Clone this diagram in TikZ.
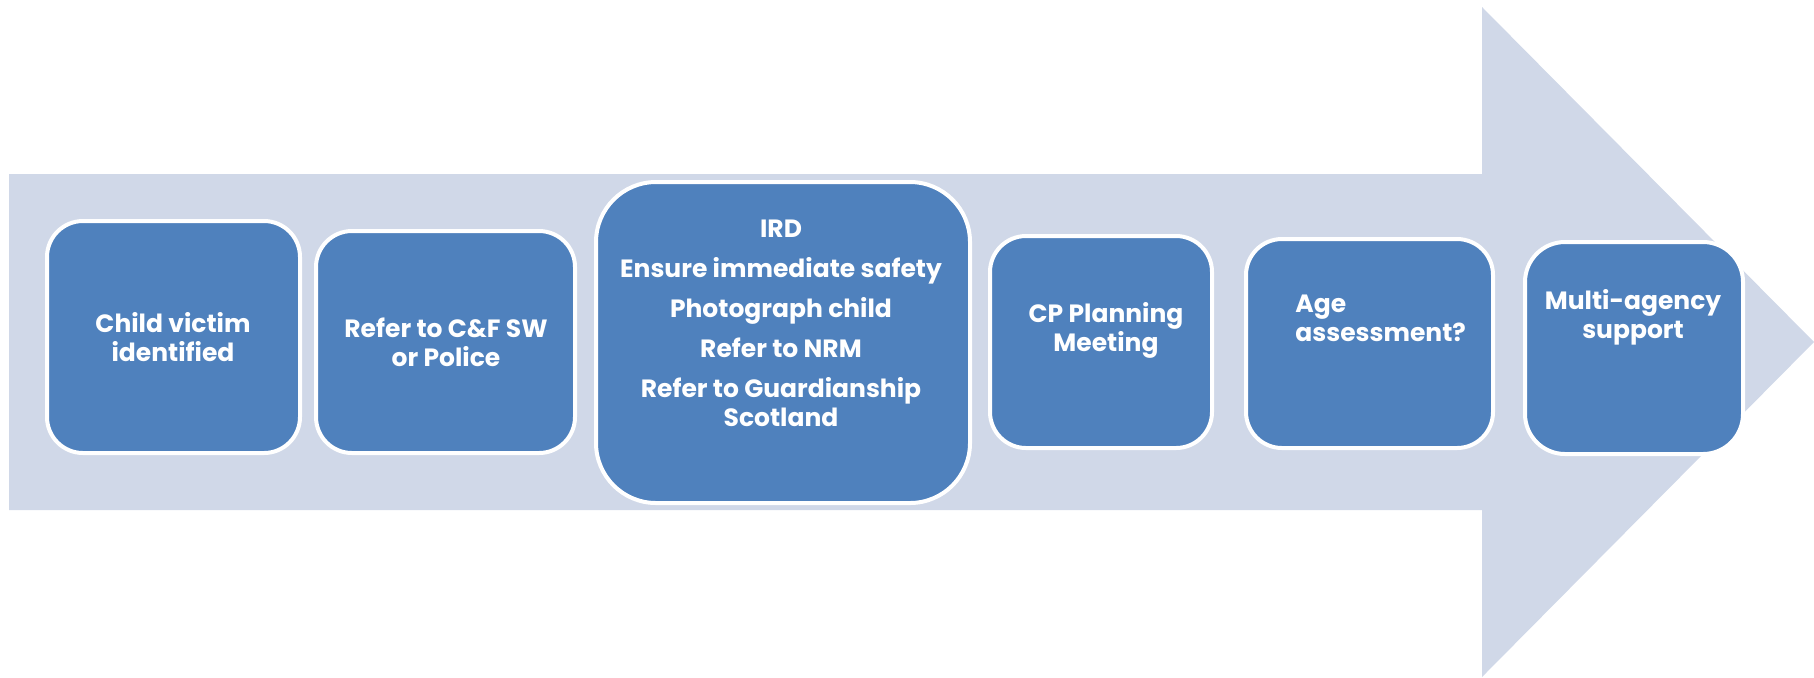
\documentclass[tikz,border=0pt]{standalone}
\usepackage{fontspec}
\setmainfont{Poppins}
\usepackage{tikz}
\usetikzlibrary{calc}

\definecolor{arrowgrey}{HTML}{D0D8E8}
\definecolor{boxblue}{HTML}{4F81BD}

\begin{document}
\begin{tikzpicture}[x=0.5pt, y=-0.5pt,
    stage/.style = {draw=white, line width=2pt, fill=boxblue, rounded corners=18pt,
                    inner sep=0pt, outer sep=0pt},
    txt/.style = {text=white, align=center, inner sep=0pt,
                  font=\bfseries\fontsize{12.5}{14.5}\selectfont}]
    \useasboundingbox (0,0) rectangle (1814,677);

    % big arrow behind the stages
    \fill[arrowgrey] (9,174) -- (1482,174) -- (1482,7) -- (1814,342)
        -- (1482,677) -- (1482,510) -- (9,510) -- cycle;

    \node[stage, minimum width=126.5pt, minimum height=116pt] (child) at (173.5,337) {};
    \node[stage, minimum width=129.5pt, minimum height=111pt] (refer) at (445.5,342) {};
    \node[stage, minimum width=187pt, minimum height=160.5pt, rounded corners=30pt] (ird) at (783,342.5) {};
    \node[stage, minimum width=111pt, minimum height=106pt] (cp) at (1101,342) {};
    \node[stage, minimum width=123.5pt, minimum height=104.5pt] (age) at (1369.5,343.5) {};
    \node[stage, minimum width=109pt, minimum height=106pt, rounded corners=20pt] (multi) at (1634,348) {};

    \node[txt] (childtxt) at (173,337.5) {Child victim\\identified};
    \node[txt] (refertxt) at (446,342) {Refer to C\&F SW\\or Police};
    \node[txt] (irdtxt) at (781,323) {IRD\\[5.5pt]Ensure immediate safety\\[5.5pt]Photograph child\\[5.5pt]Refer to NRM\\[5.5pt]Refer to Guardianship\\Scotland};
    \node[txt] (cptxt) at (1106,330) {CP Planning\\Meeting};
    \node[txt, align=left, anchor=west] (agetxt) at (1295,318) {Age\\assessment?};
    \node[txt] (multitxt) at (1633,317) {Multi-agency\\support};
\end{tikzpicture}
\end{document}
